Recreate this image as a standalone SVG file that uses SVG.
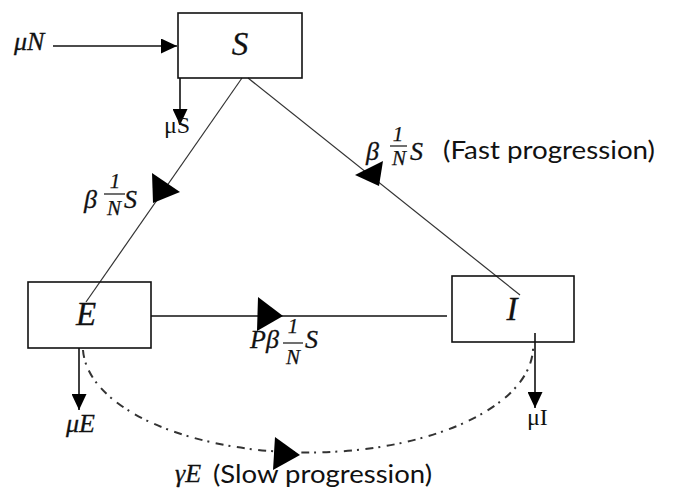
<svg xmlns="http://www.w3.org/2000/svg" width="675" height="490" viewBox="0 0 675 490">
<style>
.box{fill:none;stroke:#111;stroke-width:1.6}
.node{font-family:"Liberation Serif",serif;font-style:italic;font-size:33px;fill:#111;text-anchor:middle;stroke:#111;stroke-width:0.3}
.math{font-family:"Liberation Serif",serif;font-style:italic;font-size:26px;fill:#111;stroke:#111;stroke-width:0.3}
.frac{font-family:"Liberation Serif",serif;font-style:italic;font-size:21px;fill:#111;text-anchor:middle;stroke:#111;stroke-width:0.25}
.up{font-family:"Liberation Serif",serif;font-size:24px;fill:#111}
.sans{font-family:Lato,"Liberation Sans",sans-serif;font-size:25px;fill:#111}
.thin{stroke:#333;stroke-width:1.2;fill:none}
.solid{stroke:#111;stroke-width:1.6;fill:none}
.dd{stroke:#333;stroke-width:2;fill:none;stroke-dasharray:8 5 2 6.5}
.head{fill:#000}
.bar{stroke:#111;stroke-width:1.2}
</style>
<defs>
<marker id="arr" viewBox="0 0 16 15" refX="16" refY="7.5" markerWidth="16" markerHeight="15" markerUnits="userSpaceOnUse" orient="auto">
<path d="M0,0 L16,7.5 L0,15 z" fill="#000"/>
</marker>
</defs>
<g id="connectors">
<line class="solid" x1="53" y1="46" x2="177" y2="46" marker-end="url(#arr)"/>
<line class="solid" x1="180" y1="78" x2="180" y2="125" marker-end="url(#arr)"/>
<line class="thin" x1="242" y1="78" x2="86" y2="302"/>
<line class="thin" x1="248" y1="78" x2="520" y2="295"/>
<line class="solid" x1="151" y1="316" x2="447" y2="316"/>
<line class="solid" x1="79" y1="348" x2="79" y2="410" marker-end="url(#arr)"/>
<path class="dd" d="M83,350 A225,106 0 0 0 533,343"/>
<line class="solid" x1="535" y1="333" x2="535" y2="408" marker-end="url(#arr)"/>
<polygon class="head" points="152,173 180,192 153,203"/>
<polygon class="head" points="355,175 383,161 379,186"/>
<polygon class="head" points="258,297 283,316 257,331"/>
<polygon class="head" points="275,437 300,455 273,470"/>
</g>
<g id="S">
<rect class="box" x="178" y="13" width="124" height="65"/>
<text class="node" x="240" y="55">S</text>
</g>
<g id="E">
<rect class="box" x="28" y="282" width="123" height="66"/>
<text class="node" x="86" y="325">E</text>
</g>
<g id="I">
<rect class="box" x="452" y="276" width="122" height="66"/>
<text class="node" x="512" y="320">I</text>
</g>
<g id="labels">
<text class="math" x="14" y="50">μN</text>
<text class="up" x="164" y="133">μS</text>
<text class="math" x="66" y="432">μE</text>
<text class="up" x="527" y="425">μI</text>
<g id="lbl-left">
<text class="math" x="84" y="208">β</text>
<text class="frac" x="115" y="188">1</text>
<line class="bar" x1="104" y1="194" x2="125" y2="194"/>
<text class="frac" x="114" y="215">N</text>
<text class="math" x="124" y="208">S</text>
</g>
<g id="lbl-right">
<text class="math" x="366" y="160">β</text>
<text class="frac" x="398" y="141">1</text>
<line class="bar" x1="390" y1="146" x2="407" y2="146"/>
<text class="frac" x="399" y="165">N</text>
<text class="math" x="410" y="160">S</text>
<text class="sans" x="443" y="159" textLength="212" lengthAdjust="spacingAndGlyphs">(Fast progression)</text>
</g>
<g id="lbl-mid">
<text class="math" x="250" y="348">Pβ</text>
<text class="frac" x="293" y="333">1</text>
<line class="bar" x1="283" y1="343" x2="303" y2="343"/>
<text class="frac" x="293" y="364">N</text>
<text class="math" x="305" y="348">S</text>
</g>
<g id="lbl-bottom">
<text class="math" x="175" y="482">γE</text>
<text class="sans" x="213" y="483" textLength="219" lengthAdjust="spacingAndGlyphs">(Slow progression)</text>
</g>
</g>
</svg>
